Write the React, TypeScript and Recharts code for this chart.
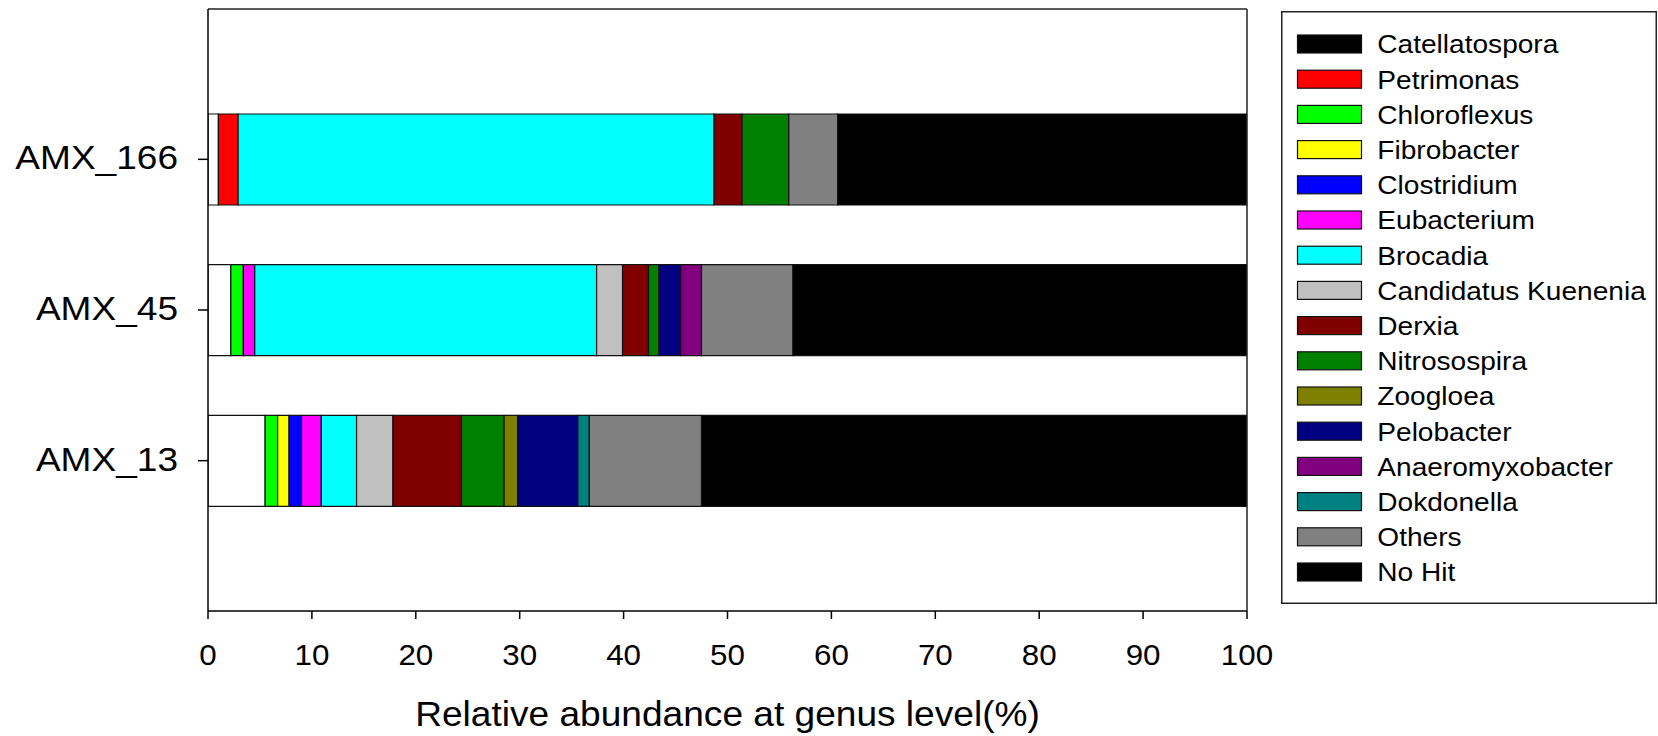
import React from 'react';
import { BarChart, Bar, XAxis, YAxis, Legend, Label } from 'recharts';

const categories = ['AMX_166', 'AMX_45', 'AMX_13'];

const genera = [
  'Catellatospora', 'Petrimonas', 'Chloroflexus', 'Fibrobacter', 'Clostridium',
  'Eubacterium', 'Brocadia', 'Candidatus Kuenenia', 'Derxia', 'Nitrosospira',
  'Zoogloea', 'Pelobacter', 'Anaeromyxobacter', 'Dokdonella', 'Others', 'No Hit',
];

const legendColors = [
  '#000000', '#FF0000', '#00FF00', '#FFFF00', '#0000FF', '#FF00FF', '#00FFFF', '#C0C0C0',
  '#800000', '#008000', '#808000', '#000080', '#800080', '#008080', '#808080', '#000000',
];

const barColors = [
  '#FFFFFF', '#FF0000', '#00FF00', '#FFFF00', '#0000FF', '#FF00FF', '#00FFFF', '#C0C0C0',
  '#800000', '#008000', '#808000', '#000080', '#800080', '#008080', '#808080', '#000000',
];

// values per genus, in the order of categories
const catellatospora = [1.0, 2.2, 5.5];
const petrimonas = [1.9, 0, 0];
const chloroflexus = [0, 1.2, 1.2];
const fibrobacter = [0, 0, 1.1];
const clostridium = [0, 0, 1.2];
const eubacterium = [0, 1.1, 1.9];
const brocadia = [45.8, 32.9, 3.4];
const candidatusKuenenia = [0, 2.5, 3.5];
const derxia = [2.7, 2.5, 6.6];
const nitrosospira = [4.5, 1.0, 4.1];
const zoogloea = [0, 0, 1.3];
const pelobacter = [0, 2.1, 5.8];
const anaeromyxobacter = [0, 2.0, 0];
const dokdonella = [0, 0, 1.1];
const others = [4.7, 8.8, 10.8];
const noHit = [39.4, 43.7, 52.5];

const xTicks = [0, 10, 20, 30, 40, 50, 60, 70, 80, 90, 100];

const seriesValues = [
  catellatospora, petrimonas, chloroflexus, fibrobacter, clostridium, eubacterium,
  brocadia, candidatusKuenenia, derxia, nitrosospira, zoogloea, pelobacter,
  anaeromyxobacter, dokdonella, others, noHit,
];

const data = categories.map((name, ci) => {
  const row: Record<string, any> = { name };
  genera.forEach((g, gi) => {
    row[g] = seriesValues[gi][ci];
  });
  return row;
});

const FONT = '"Liberation Sans", Arial, Helvetica, sans-serif';

const YTick = (props: any) => {
  const { x, y, payload } = props;
  return (
    <g transform={`translate(${x - 20},${y + 10})`}>
      <text
        transform="scale(1.09,1)"
        textAnchor="end"
        fontFamily={FONT}
        fontSize={34}
        fill="#000"
      >
        {payload.value}
      </text>
    </g>
  );
};

const XTick = (props: any) => {
  const { x, y, payload } = props;
  return (
    <g transform={`translate(${x},${y + 46})`}>
      <text
        transform="scale(1.07,1)"
        textAnchor="middle"
        fontFamily={FONT}
        fontSize={29.3}
        fill="#000"
      >
        {payload.value}
      </text>
    </g>
  );
};

const XTitle = (props: any) => {
  const vb = props.viewBox || { x: 208, y: 611, width: 1039, height: 125 };
  const cx = vb.x + vb.width / 2;
  return (
    <g transform={`translate(${cx},${vb.y + 115})`}>
      <text
        transform="scale(1.06,1)"
        textAnchor="middle"
        fontFamily={FONT}
        fontSize={35}
        fill="#000"
      >
        Relative abundance at genus level(%)
      </text>
    </g>
  );
};

const LegendBox = () => {
  const w = 376;
  const h = 593;
  return (
    <svg width={w} height={h} style={{ display: 'block' }}>
      <rect x={0.75} y={0.75} width={w - 1.5} height={h - 1.5} fill="#fff" stroke="#222" strokeWidth={1.5} />
      {genera.map((g, i) => {
        const top = 24 + i * 35.2;
        return (
          <g key={g}>
            <rect x={16.5} y={top} width={64} height={18} fill={legendColors[i]} stroke="#111" strokeWidth={1.2} />
            <g transform={`translate(96.3,${top + 18.3})`}>
              <text transform="scale(1.097,1)" fontFamily={FONT} fontSize={25.6} fill="#000">
                {g}
              </text>
            </g>
          </g>
        );
      })}
    </svg>
  );
};

export default function App() {
  return (
    <div style={{ position: 'absolute', left: 0, top: 0, width: 1658, height: 736, background: '#fff' }}>
      <BarChart
        width={1658}
        height={736}
        data={data}
        layout="vertical"
        margin={{ top: 8, right: 410, bottom: 0, left: 0 }}
        barSize={91}
      >
        <XAxis
          type="number"
          domain={[0, 100]}
          ticks={xTicks}
          allowDataOverflow
          height={125}
          tickSize={8}
          tickMargin={0}
          tick={<XTick />}
          axisLine={{ stroke: '#000', strokeWidth: 1.5 }}
          tickLine={{ stroke: '#000', strokeWidth: 1.5 }}
          interval={0}
        >
          <Label content={<XTitle />} />
        </XAxis>
        <XAxis
          xAxisId="top"
          orientation="top"
          type="number"
          domain={[0, 100]}
          height={1}
          tick={false}
          tickLine={false}
          axisLine={{ stroke: '#222', strokeWidth: 1.5 }}
        />
        <YAxis
          type="category"
          dataKey="name"
          width={208}
          tickSize={10}
          tickMargin={0}
          tick={<YTick />}
          padding={{ top: 75, bottom: 75 }}
          axisLine={{ stroke: '#000', strokeWidth: 1.5 }}
          tickLine={{ stroke: '#000', strokeWidth: 1.5 }}
          interval={0}
        />
        <YAxis
          yAxisId="right"
          orientation="right"
          type="category"
          dataKey="name"
          width={1}
          tick={false}
          tickLine={false}
          padding={{ top: 75, bottom: 75 }}
          axisLine={{ stroke: '#222', strokeWidth: 1.5 }}
        />
        {genera.map((g, i) => (
          <Bar
            key={g}
            dataKey={g}
            stackId="a"
            fill={barColors[i]}
            stroke="#111"
            strokeWidth={1.2}
            isAnimationActive={false}
          />
        ))}
        <Legend
          layout="horizontal"
          verticalAlign="middle"
          align="center"
          content={<LegendBox />}
          wrapperStyle={{ position: 'absolute', left: 1281, top: 11, width: 376, height: 593, margin: 0 }}
        />
      </BarChart>
    </div>
  );
}
